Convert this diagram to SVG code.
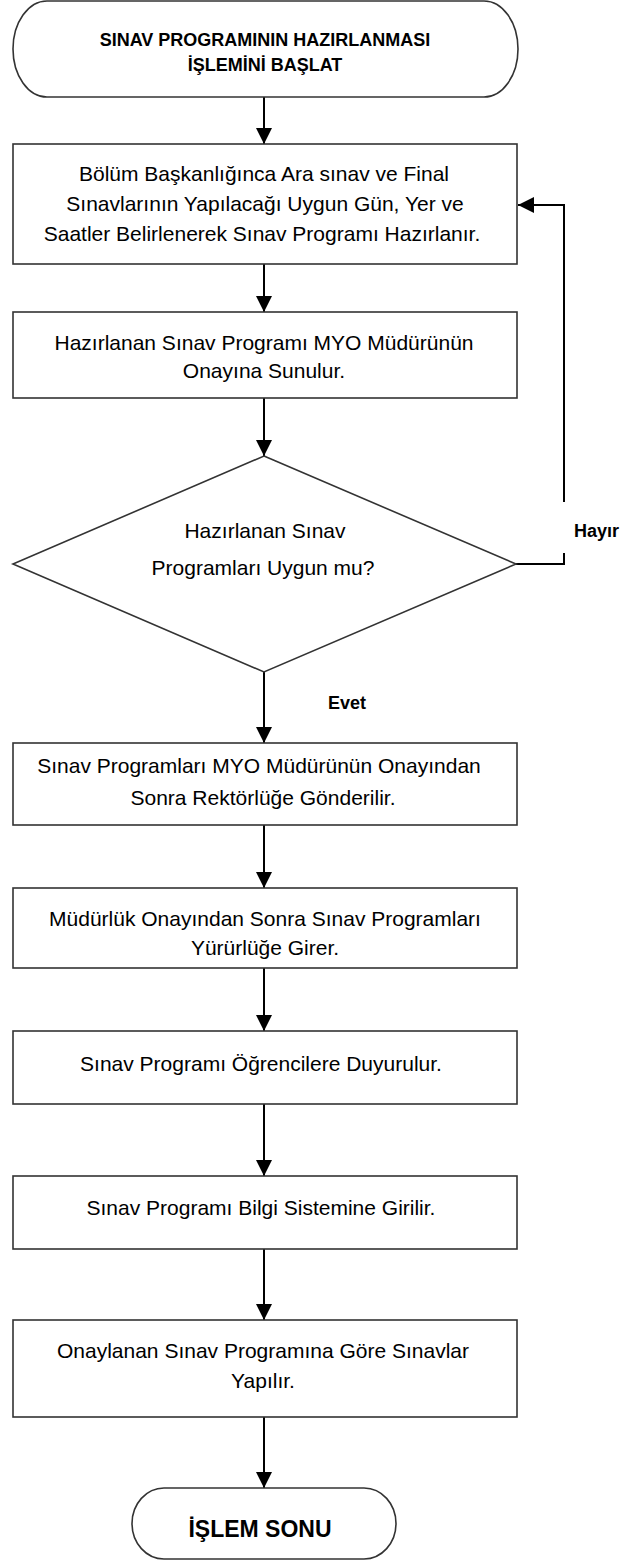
<svg xmlns="http://www.w3.org/2000/svg" width="629" height="1561" viewBox="0 0 629 1561">
<style>
.shape{fill:#fff;stroke:#333;stroke-width:1.6}
.t{font-family:"Liberation Sans",Arial,sans-serif;font-size:21px;fill:#000;text-anchor:middle}
.b{font-family:"Liberation Sans",Arial,sans-serif;font-weight:bold;fill:#000}
.c{fill:none;stroke:#000;stroke-width:2}
</style>
<defs>
<marker id="ah" markerUnits="userSpaceOnUse" markerWidth="16" markerHeight="16" viewBox="0 0 16 16" refX="16" refY="8" orient="auto">
<path d="M0,0 L16,8 L0,16 Z" fill="#000"/>
</marker>
</defs>
<rect width="629" height="1561" fill="#fff"/>
<g id="connectors">
<line class="c" x1="264" y1="97" x2="264" y2="144" marker-end="url(#ah)"/>
<line class="c" x1="264" y1="264" x2="264" y2="312" marker-end="url(#ah)"/>
<line class="c" x1="264" y1="398" x2="264" y2="456" marker-end="url(#ah)"/>
<line class="c" x1="264" y1="672" x2="264" y2="743" marker-end="url(#ah)"/>
<line class="c" x1="264" y1="825" x2="264" y2="888" marker-end="url(#ah)"/>
<line class="c" x1="264" y1="968" x2="264" y2="1031" marker-end="url(#ah)"/>
<line class="c" x1="264" y1="1104" x2="264" y2="1176" marker-end="url(#ah)"/>
<line class="c" x1="264" y1="1249" x2="264" y2="1320" marker-end="url(#ah)"/>
<line class="c" x1="264" y1="1417" x2="264" y2="1488" marker-end="url(#ah)"/>
<polyline class="c" points="516,564 564,564 564,553"/>
<polyline class="c" points="564,502 564,205 518,205" marker-end="url(#ah)"/>
<text class="b" x="574" y="537" font-size="18">Hayır</text>
<text class="b" x="328" y="709" font-size="18">Evet</text>
</g>
<g id="start">
<rect class="shape" x="13" y="1" width="505" height="96" rx="34" ry="48"/>
<text class="b" x="265" y="46" font-size="18" text-anchor="middle">SINAV PROGRAMININ HAZIRLANMASI</text>
<text class="b" x="265" y="71" font-size="18" text-anchor="middle">İŞLEMİNİ BAŞLAT</text>
</g>
<g id="box1">
<rect class="shape" x="13" y="144" width="504" height="120"/>
<text class="t" x="264" y="180.5">Bölüm Başkanlığınca Ara sınav ve Final</text>
<text class="t" x="265" y="210.5">Sınavlarının Yapılacağı Uygun Gün, Yer ve</text>
<text class="t" x="262" y="240.5">Saatler Belirlenerek Sınav Programı Hazırlanır.</text>
</g>
<g id="box2">
<rect class="shape" x="13" y="312" width="504" height="86"/>
<text class="t" x="264" y="349.5">Hazırlanan Sınav Programı MYO Müdürünün</text>
<text class="t" x="264" y="377.5">Onayına Sunulur.</text>
</g>
<g id="decision">
<polygon class="shape" points="264,456 516,564 264,672 13,564"/>
<text class="t" x="265" y="537.5">Hazırlanan Sınav</text>
<text class="t" x="263" y="574.5">Programları Uygun mu?</text>
</g>
<g id="box3">
<rect class="shape" x="13" y="743" width="504" height="82"/>
<text class="t" x="259" y="772.5">Sınav Programları MYO Müdürünün Onayından</text>
<text class="t" x="263" y="804.5">Sonra Rektörlüğe Gönderilir.</text>
</g>
<g id="box4">
<rect class="shape" x="13" y="888" width="504" height="80"/>
<text class="t" x="265" y="925.5">Müdürlük Onayından Sonra Sınav Programları</text>
<text class="t" x="265" y="954.5">Yürürlüğe Girer.</text>
</g>
<g id="box5">
<rect class="shape" x="13" y="1031" width="504" height="73"/>
<text class="t" x="261" y="1070.5">Sınav Programı Öğrencilere Duyurulur.</text>
</g>
<g id="box6">
<rect class="shape" x="13" y="1176" width="504" height="73"/>
<text class="t" x="261" y="1214.5">Sınav Programı Bilgi Sistemine Girilir.</text>
</g>
<g id="box7">
<rect class="shape" x="13" y="1320" width="504" height="97"/>
<text class="t" x="263" y="1357.5">Onaylanan Sınav Programına Göre Sınavlar</text>
<text class="t" x="263" y="1387.5">Yapılır.</text>
</g>
<g id="end">
<rect class="shape" x="132" y="1488" width="264" height="71" rx="32" ry="35.5"/>
<text class="b" x="260" y="1536.5" font-size="23" text-anchor="middle">İŞLEM SONU</text>
</g>
</svg>
